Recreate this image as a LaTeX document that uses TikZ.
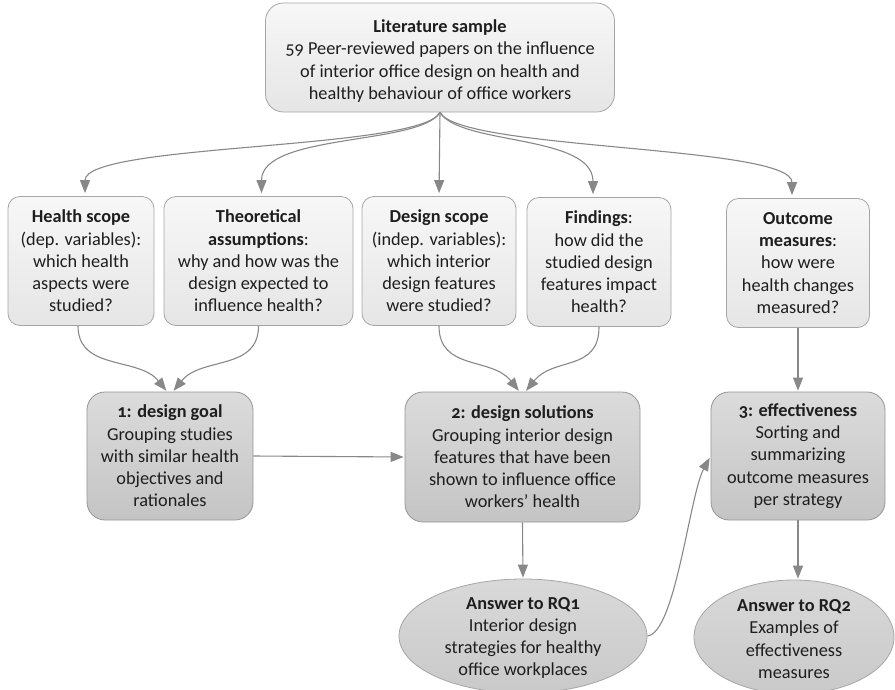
\documentclass[tikz,border=0pt]{standalone}
\usepackage{fontspec}
\setmainfont{Carlito}[Numbers=OldStyle]
\usetikzlibrary{arrows.meta,shapes.geometric}
\definecolor{edgec}{HTML}{A6A6A6}
\definecolor{arrc}{HTML}{888888}
\definecolor{txt}{HTML}{1E1E1E}
\begin{document}
\begin{tikzpicture}[x=1pt,y=-1pt,
  font=\fontsize{18.3}{22.3}\selectfont, text=txt,
  light/.style={draw=edgec, rounded corners=12pt, top color=black!3, bottom color=black!10, align=center, inner sep=0pt, line width=0.8pt},
  dark/.style={draw=edgec!90!black, rounded corners=18pt, top color=black!14, bottom color=black!23, align=center, inner sep=0pt, line width=0.8pt},
  oval/.style={ellipse, draw=edgec, top color=black!15, bottom color=black!21, inner sep=0pt, line width=0.8pt},
  conn/.style={draw=arrc, line width=1.1pt, -{Triangle[length=13pt,width=10pt]}}]
\useasboundingbox (0,0) rectangle (895,689);

\node[light, rounded corners=18pt, minimum width=349pt, minimum height=109pt] (lit) at (440,57.5) {};
\node[align=center, inner sep=0pt] (litt) at (440,61)
  {\textbf{Literature sample}\\59 Peer-reviewed papers on the influence\\of interior office design on health and\\healthy behaviour of office workers};

\node[light, minimum width=146pt, minimum height=129pt] (hs) at (81,261)
  {\textbf{Health scope}\\(dep. variables):\\which health\\aspects were\\studied?};
\node[light, minimum width=189pt, minimum height=129pt] (ta) at (258.5,261)
  {\textbf{Theoretical}\\\textbf{assumptions}:\\why and how was the\\design expected to\\influence health?};
\node[light, minimum width=154pt, minimum height=129pt] (dsc) at (439,261)
  {\textbf{Design scope}\\(indep. variables):\\which interior\\design features\\were studied?};
\node[light, minimum width=144pt, minimum height=129pt] (fi) at (599,262)
  {\textbf{Findings}:\\how did the\\studied design\\features impact\\health?};
\node[light, minimum width=143pt, minimum height=129pt] (om) at (798,263)
  {\textbf{Outcome}\\\textbf{measures}:\\how were\\health changes\\measured?};

\node[dark, minimum width=166pt, minimum height=128pt] (dg) at (170,456)
  {\textbf{1: design goal}\\Grouping studies\\with similar health\\objectives and\\rationales};
\node[dark, minimum width=235pt, minimum height=130pt] (ds) at (522.5,457)
  {\textbf{2: design solutions}\\Grouping interior design\\features that have been\\shown to influence office\\workers’ health};
\node[dark, minimum width=174pt, minimum height=128pt] (ef) at (798,456)
  {\textbf{3: effectiveness}\\Sorting and\\summarizing\\outcome measures\\per strategy};

\node[oval, minimum width=248pt, minimum height=114pt] (rq1) at (523,636) {};
\node[align=center] (rq1t) at (523,638)
  {\textbf{Answer to RQ1}\\Interior design\\strategies for healthy\\office workplaces};
\node[oval, minimum width=200pt, minimum height=114pt] (rq2) at (794,637) {};
\node[align=center] (rq2t) at (794,639)
  {\textbf{Answer to RQ2}\\Examples of\\effectiveness\\measures};

% fan from literature sample
\draw[conn, shorten >=3pt] (lit.south) .. controls +(-20,38) and +(0,-53) .. ([xshift=4pt]hs.north);
\draw[conn, shorten >=3pt] (lit.south) .. controls +(-20,33) and +(0,-63) .. ([xshift=3pt]ta.north);
\draw[conn, shorten >=3pt] (lit.south) -- (dsc.north);
\draw[conn, shorten >=3pt] (lit.south) .. controls +(20,33) and +(0,-63) .. ([xshift=-6pt]fi.north);
\draw[conn, shorten >=3pt] (lit.south) .. controls +(20,38) and +(0,-53) .. ([xshift=-6pt]om.north);

% row 2 to row 3
\draw[conn, shorten >=1pt] ([xshift=-3pt]hs.south) .. controls +(0,45) and +(-28,-35) .. ([xshift=-3pt]dg.north);
\draw[conn, shorten >=1pt] (ta.south) .. controls +(0,45) and +(28,-35) .. ([xshift=3pt]dg.north);
\draw[conn, shorten >=1pt] (dsc.south) .. controls +(0,45) and +(-28,-35) .. ([xshift=-3pt]ds.north);
\draw[conn, shorten >=1pt] (fi.south) .. controls +(0,45) and +(28,-35) .. ([xshift=3pt]ds.north);
\draw[conn, shorten >=1pt] (om.south) -- (ef.north);

% row 3
\draw[conn, shorten >=1pt] (dg.east) -- (ds.west);
\draw[conn, shorten >=1pt] (ds.south) -- (rq1.north);
\draw[conn, shorten >=1pt] (ef.south) -- ([xshift=4pt]rq2.north);
\draw[conn, shorten >=2pt] (rq1.east) .. controls +(28,-3) and +(-21,39) .. (ef.west);
\end{tikzpicture}
\end{document}
